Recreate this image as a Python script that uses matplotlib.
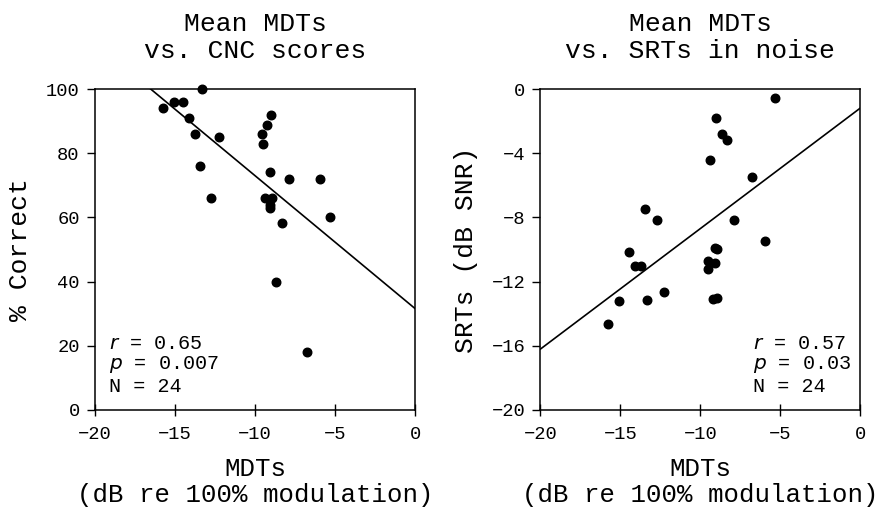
import numpy as np
import matplotlib
matplotlib.use('Agg')
import matplotlib.pyplot as plt

plt.rcParams['font.family'] = ['Liberation Mono', 'DejaVu Sans Mono']

# left panel: mean MDTs vs CNC scores
mdt_cnc = [-15.77, -15.08, -14.48, -13.33, -14.13, -13.73, -12.25, -13.46, -12.75,
           -9.0, -9.23, -9.54, -9.52, -9.04, -7.88, -5.92, -9.40, -8.96,
           -9.08, -9.06, -8.33, -5.33, -8.67, -6.75]
cnc = [94.0, 96.0, 96.0, 100.0, 90.9, 86.0, 84.9, 76.0, 66.0,
       91.9, 88.9, 86.0, 83.0, 74.0, 72.0, 72.0, 66.0, 66.0,
       64.0, 63.0, 58.2, 60.1, 40.0, 18.2]
cnc_fit = (-4.14, 31.6)  # slope, intercept
cnc_stats = ['0.65', '0.007', '24']

# right panel: mean MDTs vs SRTs in noise
mdt_srt = [-5.35, -9.03, -8.65, -8.32, -9.40, -6.76, -13.44, -12.72, -7.88,
           -5.93, -14.46, -9.09, -8.94, -14.11, -13.71, -9.52, -9.52, -9.05,
           -12.26, -15.06, -13.32, -9.23, -8.96, -15.75]
srt = [-0.58, -1.83, -2.81, -3.18, -4.43, -5.47, -7.48, -8.13, -8.17,
       -9.48, -10.15, -9.88, -9.98, -11.02, -11.02, -10.71, -11.23, -10.87,
       -12.66, -13.18, -13.14, -13.08, -13.01, -14.66]
srt_fit = (0.75, -1.2)
srt_stats = ['0.57', '0.03', '24']

fig = plt.figure(figsize=(8.79, 5.09), dpi=100)
ax1 = fig.add_axes([0.1081, 0.1945, 0.3641, 0.6306])
ax2 = fig.add_axes([0.6149, 0.1945, 0.3635, 0.6306])

panels = [
    (ax1, mdt_cnc, cnc, cnc_fit, cnc_stats, 'Mean MDTs\nvs. CNC scores', '% Correct',
     (0, 100), np.arange(0, 101, 20), (0.045, 0.045)),
    (ax2, mdt_srt, srt, srt_fit, srt_stats, 'Mean MDTs\nvs. SRTs in noise', 'SRTs (dB SNR)',
     (-20, 0), np.arange(-20, 1, 4), (0.665, 0.045)),
]

for ax, x, y, fit, st, title, ylab, ylim, yt, tpos in panels:
    ax.scatter(x, y, s=38, color='black', zorder=3, clip_on=False)
    xx = np.array([-20, 0])
    ax.plot(xx, fit[0] * xx + fit[1], color='black', lw=1.2)
    ax.set_xlim(-20, 0)
    ax.set_ylim(*ylim)
    ax.set_xticks([-20, -15, -10, -5, 0])
    ax.set_yticks(yt)
    ax.tick_params(axis='x', direction='inout', length=9, width=1, labelsize=13.5, pad=7)
    ax.tick_params(axis='y', direction='out', length=6, width=1, labelsize=13.5, pad=5)
    for sp in ax.spines.values():
        sp.set_linewidth(1.1)
    ax.set_title(title, fontsize=19, pad=22, linespacing=1.2)
    ax.set_xlabel('MDTs\n(dB re 100% modulation)', fontsize=18.5, labelpad=10, linespacing=1.12)
    ax.set_ylabel(ylab, fontsize=19, labelpad=10)
    ax.text(tpos[0], tpos[1], '$\\it{r}$ = ' + st[0] + '\n$\\it{p}$ = ' + st[1] + '\nN = ' + st[2],
            transform=ax.transAxes, fontsize=14.5, va='bottom', ha='left', linespacing=1.1)

fig.savefig('out.png', dpi=100)
